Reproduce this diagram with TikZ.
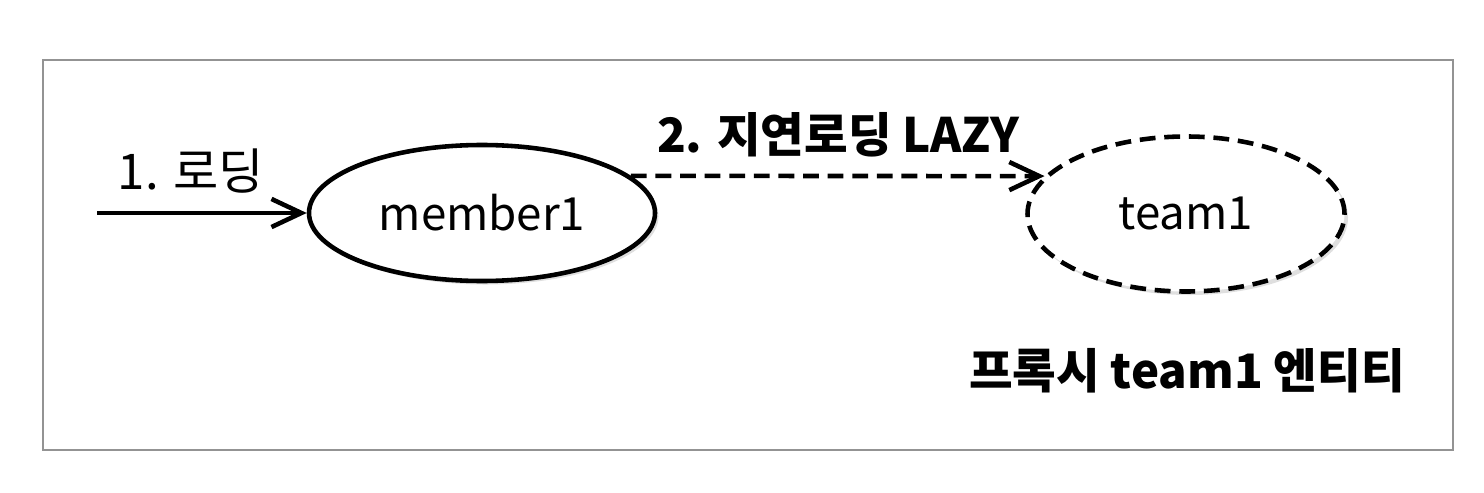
\documentclass[tikz,border=0pt]{standalone}
\usepackage{fontspec}
\setmainfont{Noto Sans CJK KR}
\usetikzlibrary{arrows.meta, positioning, shapes.geometric, shadows}

\begin{document}
\begin{tikzpicture}[font=\fontsize{26}{30}\selectfont,
  entity/.style={draw, ellipse, line width=2.6pt, fill=white, inner sep=0pt,
    drop shadow={opacity=0.25, shadow xshift=2pt, shadow yshift=-2pt}},
  link/.style={line width=2.6pt, -{Straight Barb[length=17pt, width=16pt, line width=2.6pt]}}]

  \useasboundingbox (0,0) rectangle (29.68,9.84);

  % Frame
  \draw[line width=1.2pt, gray!85] (0.86,0.84) rectangle (29.06,8.64);

  % Entities
  \node[entity, minimum width=6.92cm, minimum height=2.72cm] (member1) at (9.64,5.58) {member1};
  \node[entity, dashed, dash pattern=on 9pt off 5pt,
        minimum width=6.34cm, minimum height=3.1cm] (team1) at (23.72,5.56) {team1};

  % Loading
  \coordinate (start) at (1.94,5.58);
  \draw[link] (start) -- (member1.west);
  \node[font=\fontsize{28}{32}\selectfont] (load) at (3.82,6.42) {1. 로딩};

  % Lazy loading
  \draw[link, dash pattern=on 9pt off 5pt] (member1.14) -- (team1.165);
  \node[font=\fontsize{27}{32}\selectfont\bfseries] (lazy) at (16.76,7.14) {2. 지연로딩 LAZY};

  % Proxy
  \node[font=\fontsize{27}{32}\selectfont\bfseries] (proxy) at (23.74,2.42) {프록시 team1 엔티티};

\end{tikzpicture}
\end{document}
